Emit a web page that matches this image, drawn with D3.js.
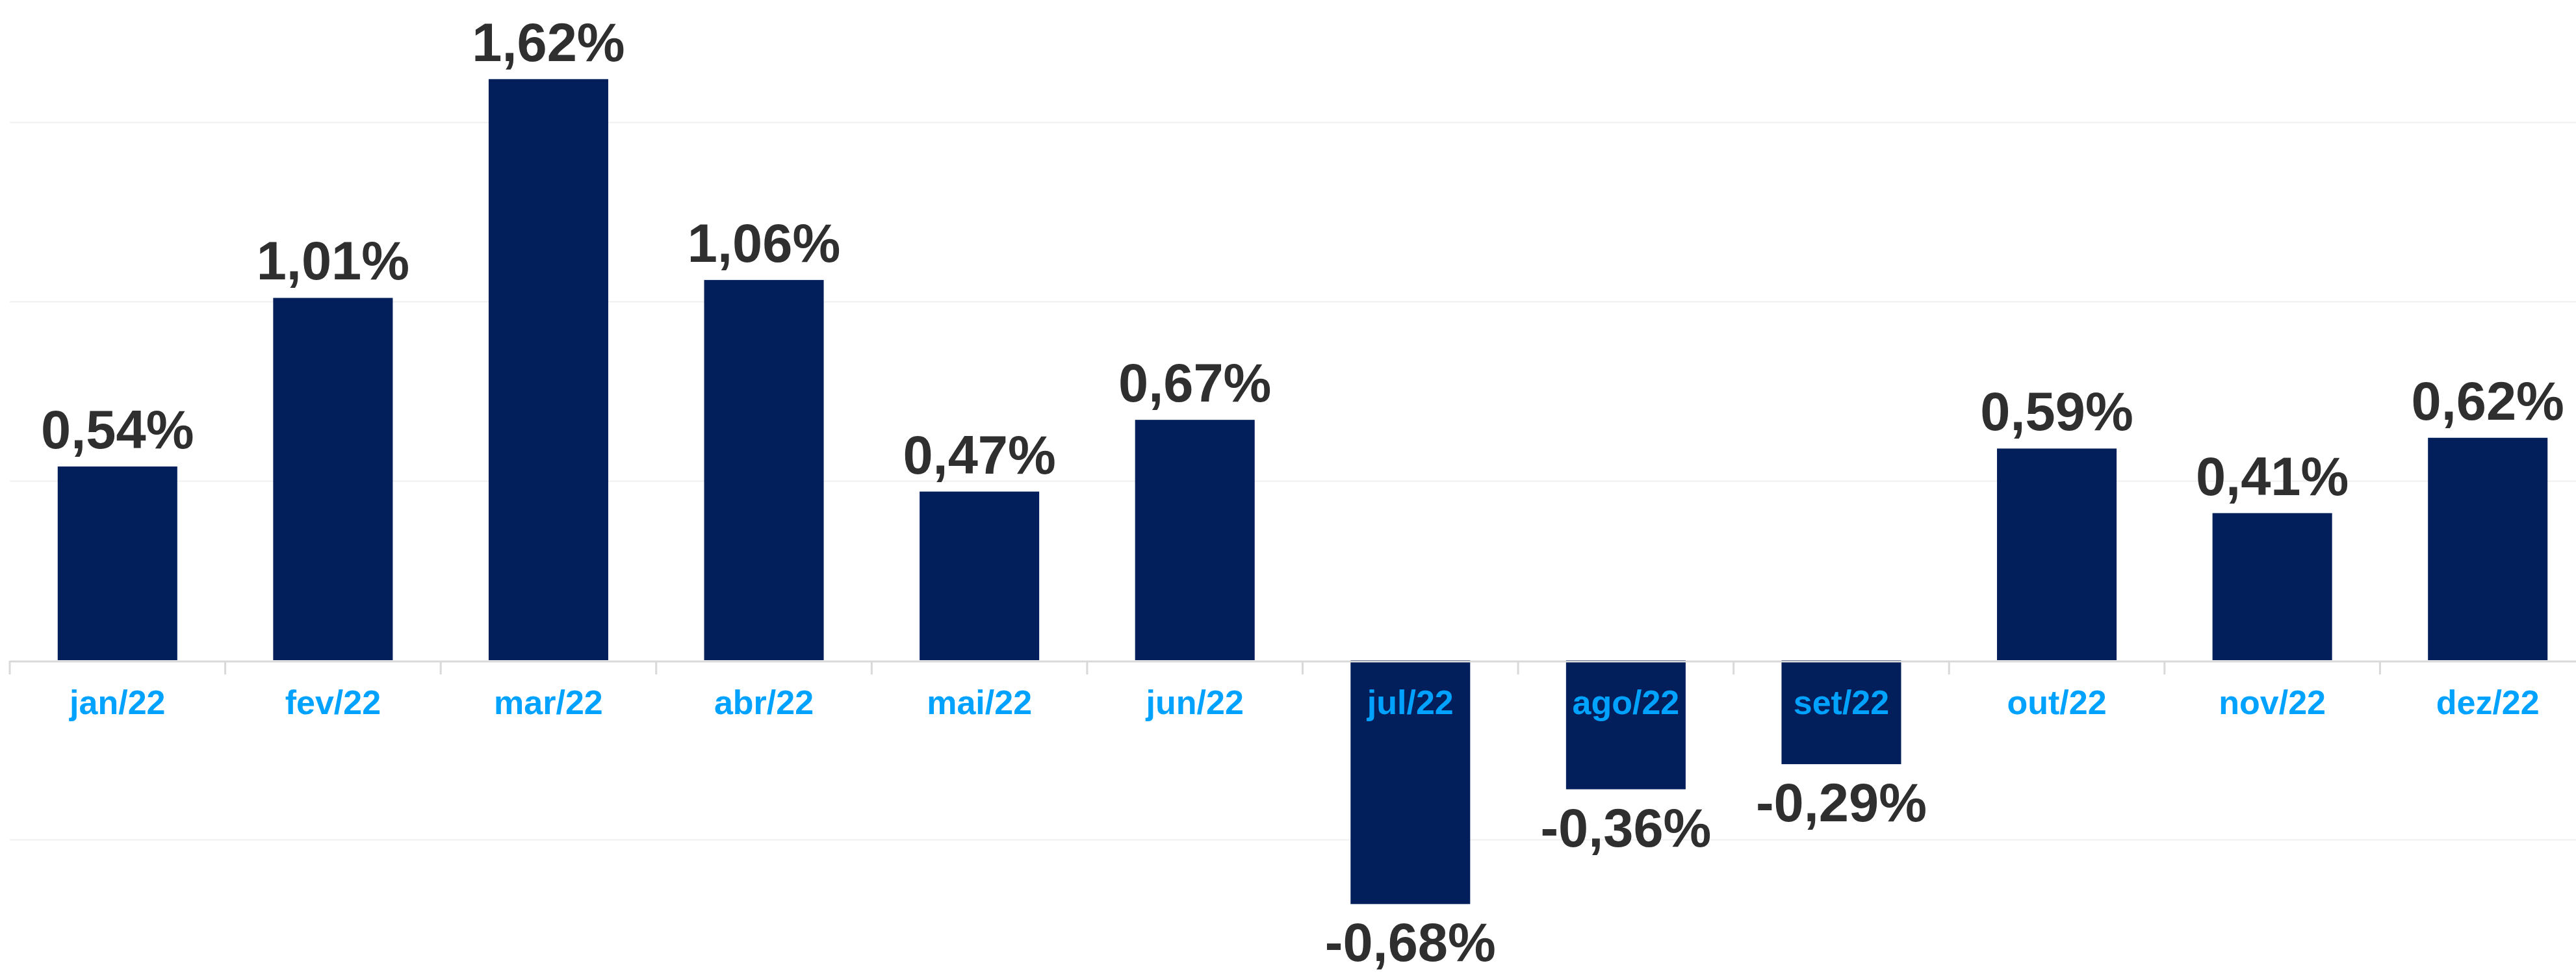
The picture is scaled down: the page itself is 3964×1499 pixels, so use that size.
<!DOCTYPE html>
<html lang="pt">
<head>
    <meta charset="UTF-8">
    <title>Variação mensal 2022</title>
    <style>
        html, body {
            margin: 0;
            padding: 0;
            background: #ffffff;
        }
        svg {
            display: block;
        }
        .value-label {
            font-family: "Liberation Sans", Arial, sans-serif;
            font-weight: bold;
            font-size: 83px;
            fill: #2f2f2f;
        }
        .month-label {
            font-family: "Liberation Sans", Arial, sans-serif;
            font-weight: bold;
            font-size: 52px;
            fill: #00a2ff;
        }
    </style>
</head>
<body>
    <div id="chart"></div>

    <script src="https://d3js.org/d3.v7.min.js"></script>
    <script>
        // Data
        const months = ['jan/22', 'fev/22', 'mar/22', 'abr/22', 'mai/22', 'jun/22',
                        'jul/22', 'ago/22', 'set/22', 'out/22', 'nov/22', 'dez/22'];
        const values = [0.54, 1.01, 1.62, 1.06, 0.47, 0.67, -0.68, -0.36, -0.29, 0.59, 0.41, 0.62];
        const gridTicks = [-0.5, 0.5, 1.0, 1.5];

        const width = 3964;
        const height = 1499;

        const svg = d3.select('#chart')
            .append('svg')
            .attr('width', width)
            .attr('height', height);

        // the last band runs a little past the right edge, like the original
        const x = d3.scaleBand()
            .domain(months)
            .range([15, 3994])
            .paddingInner(0.445)
            .paddingOuter(0.2225);

        const y = d3.scaleLinear()
            .domain([-0.8, 1.8])
            .range([1016 + 0.8 * 552, 1016 - 1.8 * 552]);

        const fmt = v => v.toFixed(2).replace('.', ',') + '%';

        // gridlines
        svg.append('g')
            .selectAll('line')
            .data(gridTicks)
            .enter()
            .append('line')
            .attr('x1', 15)
            .attr('x2', width)
            .attr('y1', d => Math.round(y(d)) + 0.5)
            .attr('y2', d => Math.round(y(d)) + 0.5)
            .attr('stroke', '#f0f0f0')
            .attr('stroke-width', 2);

        // bars
        svg.append('g')
            .selectAll('rect')
            .data(values)
            .enter()
            .append('rect')
            .attr('x', (d, i) => x(months[i]))
            .attr('width', x.bandwidth())
            .attr('y', d => y(Math.max(0, d)))
            .attr('height', d => Math.abs(y(d) - y(0)))
            .attr('fill', '#021f5c');

        // category axis
        const axis = svg.append('g')
            .attr('transform', `translate(0,${y(0) + 1.5})`)
            .call(d3.axisBottom(x).tickSize(0).tickFormat(''));
        axis.select('.domain')
            .attr('stroke', '#d9d9d9')
            .attr('stroke-width', 3);

        // tick marks between categories
        const step = x.step();
        svg.append('g')
            .selectAll('line')
            .data(d3.range(months.length + 1))
            .enter()
            .append('line')
            .attr('x1', i => 15 + i * step)
            .attr('x2', i => 15 + i * step)
            .attr('y1', y(0) + 1)
            .attr('y2', y(0) + 22)
            .attr('stroke', '#d9d9d9')
            .attr('stroke-width', 3);

        axis.select('.domain').raise();

        // month labels
        svg.append('g')
            .selectAll('text')
            .data(months)
            .enter()
            .append('text')
            .attr('class', 'month-label')
            .attr('x', d => x(d) + x.bandwidth() / 2)
            .attr('y', 1099)
            .attr('text-anchor', 'middle')
            .text(d => d);

        // value labels
        svg.append('g')
            .selectAll('text')
            .data(values)
            .enter()
            .append('text')
            .attr('class', 'value-label')
            .attr('x', (d, i) => x(months[i]) + x.bandwidth() / 2)
            .attr('y', d => d >= 0 ? y(d) - 28 : y(d) + 88)
            .attr('text-anchor', 'middle')
            .text(d => fmt(d));
    </script>
</body>
</html>
